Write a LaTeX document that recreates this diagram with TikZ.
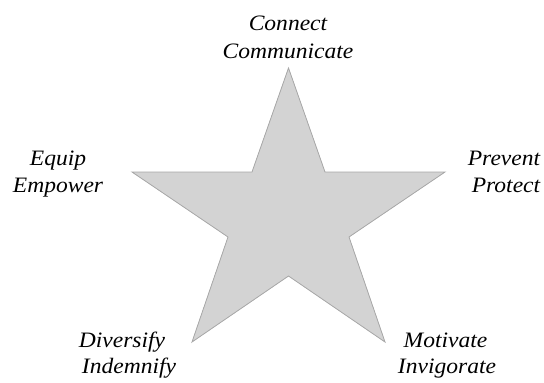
\documentclass[tikz,border=0pt]{standalone}
\usepackage{fontspec}
\setmainfont[FakeStretch=1.07]{Liberation Serif}
\begin{document}
\begin{tikzpicture}[x=1pt,y=-1pt,
  lbl/.style={anchor=base,inner sep=0pt,font=\fontsize{22}{27}\selectfont\itshape},
  starfill/.style={fill=starface,draw=staredge,line width=0.8pt,line join=miter},
  starshade/.style={fill=starshadow,draw=none}]
\definecolor{starface}{HTML}{D3D3D3}
\definecolor{staredge}{HTML}{A8A8A8}
\definecolor{starshadow}{HTML}{9C9C9C}
\useasboundingbox (0,0) rectangle (544,383);
% five-pointed star outline
\coordinate (top) at (288.5,68);
\coordinate (iur) at (325,172);
\coordinate (rt)  at (445,172);
\coordinate (ilr) at (349,237);
\coordinate (br)  at (385,342);
\coordinate (ib)  at (288.5,276);
\coordinate (bl)  at (192,342);
\coordinate (ill) at (228,237);
\coordinate (lt)  at (132,172);
\coordinate (iul) at (252,172);
% drop shadow
\begin{scope}[shift={(1.8,2.2)}]
  \fill[starshade] (top) -- (iur) -- (rt) -- (ilr) -- (br) -- (ib) -- (bl) -- (ill) -- (lt) -- (iul) -- cycle;
\end{scope}
\path[starfill] (top) -- (iur) -- (rt) -- (ilr) -- (br) -- (ib) -- (bl) -- (ill) -- (lt) -- (iul) -- cycle;
% labels at the points
\node[lbl] (c1) at (288,30.5) {Connect};
\node[lbl] (c2) at (288,58) {Communicate};
\node[lbl] (e1) at (58,165) {Equip};
\node[lbl] (e2) at (58,192.5) {Empower};
\node[lbl] (p1) at (504,165) {Prevent};
\node[lbl] (p2) at (506,192.5) {Protect};
\node[lbl] (d1) at (122,347) {Diversify};
\node[lbl] (d2) at (129,373.5) {Indemnify};
\node[lbl] (m1) at (445.5,347) {Motivate};
\node[lbl] (m2) at (447,373.5) {Invigorate};
\end{tikzpicture}
\end{document}
